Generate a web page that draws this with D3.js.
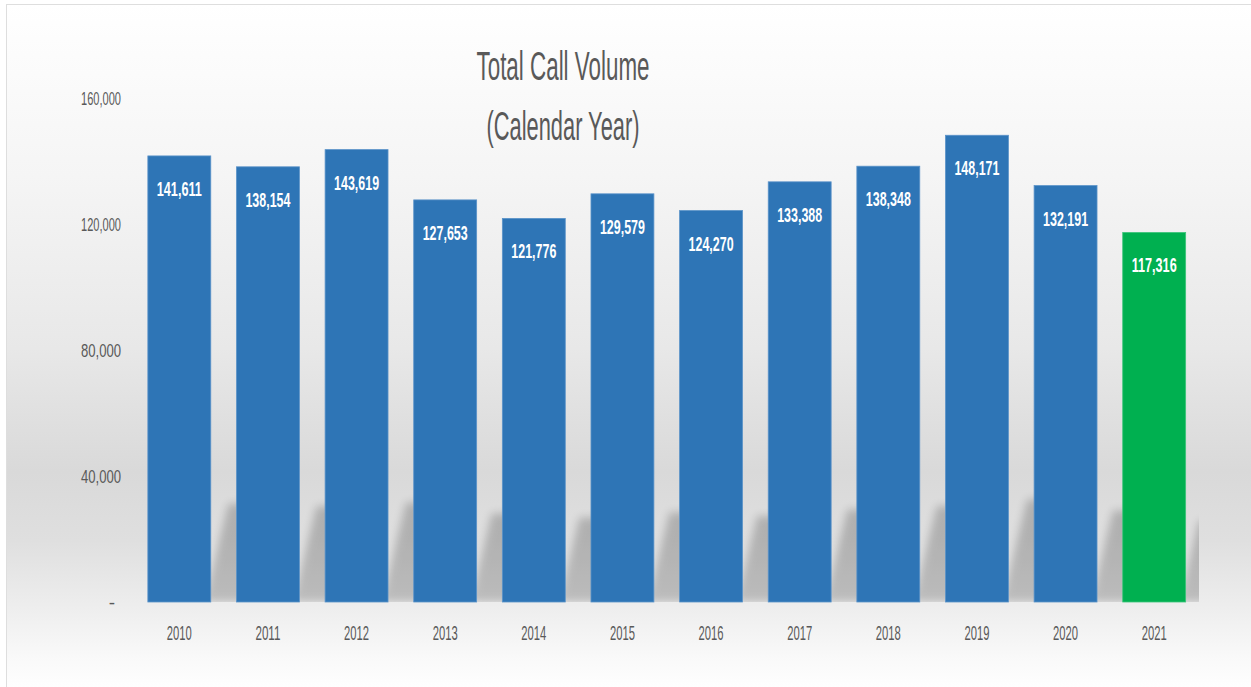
<!DOCTYPE html>
<html>
<head>
<meta charset="utf-8">
<script src="https://cdn.jsdelivr.net/npm/d3@7"></script>
<style>
  html, body { margin: 0; padding: 0; background: #fff; }
  svg { display: block; }
</style>
</head>
<body>
<script>
const years = ['2010','2011','2012','2013','2014','2015','2016','2017','2018','2019','2020','2021'];
const calls = [141611, 138154, 143619, 127653, 121776, 129579, 124270, 133388, 138348, 148171, 132191, 117316];
const yTicks = [0, 40000, 80000, 120000, 160000];
const titleLines = ['Total Call Volume', '(Calendar Year)'];

const W = 1251, H = 687;
const base = 602;
const font = '"Liberation Sans", "Open Sans", sans-serif';

const svg = d3.select('body').append('svg')
  .attr('width', W)
  .attr('height', H)
  .attr('viewBox', [0, 0, W, H]);

const defs = svg.append('defs');

// background gradient
const bg = defs.append('linearGradient')
  .attr('id', 'bg')
  .attr('x1', 0).attr('y1', 0).attr('x2', 0).attr('y2', 1);
[[0, '#ffffff'], [0.25, '#f5f5f5'], [0.5, '#e8e8e8'], [0.68, '#d9d9d9'], [0.78, '#dfdfdf'], [0.88, '#eeeeee'], [0.95, '#f9f9f9'], [1, '#ffffff']]
  .forEach(s => bg.append('stop').attr('offset', s[0]).attr('stop-color', s[1]));

defs.append('filter').attr('id', 'blur')
  .attr('x', '-50%').attr('y', '-50%').attr('width', '200%').attr('height', '200%')
  .append('feGaussianBlur').attr('stdDeviation', 4);

defs.append('clipPath').attr('id', 'plotclip')
  .append('rect').attr('x', 130).attr('y', 80).attr('width', 1199 - 130).attr('height', base - 80);

svg.append('rect').attr('width', W).attr('height', H).attr('fill', '#fff');
svg.append('rect')
  .attr('x', 6.5).attr('y', 4.5).attr('width', W).attr('height', H)
  .attr('fill', 'url(#bg)')
  .attr('stroke', '#dedede');

const x = d3.scaleBand()
  .domain(years)
  .range([135, 1198.5])
  .paddingInner(0.29)
  .paddingOuter(0.145);

const y = d3.scaleLinear()
  .domain([0, 160000])
  .range([base, 98]);

const rows = years.map((yr, i) => ({ yr, v: calls[i] }));

// perspective shadows
const shadowG = svg.append('g').attr('clip-path', 'url(#plotclip)');
shadowG.selectAll('path')
  .data(rows)
  .join('path')
  .attr('d', d => {
    const x0 = x(d.yr) + 56, x1 = x0 + x.bandwidth();
    const hs = (base - y(d.v)) * 0.22;
    const sk = hs * 0.25;
    return `M${x0},${base}L${x1},${base}L${x1 + sk},${base - hs}L${x0 + sk},${base - hs}Z`;
  })
  .attr('fill', '#000')
  .attr('opacity', 0.2)
  .attr('filter', 'url(#blur)');

// bars
svg.append('g').selectAll('rect')
  .data(rows)
  .join('rect')
  .attr('x', d => x(d.yr))
  .attr('y', d => y(d.v))
  .attr('width', x.bandwidth())
  .attr('height', d => base - y(d.v))
  .attr('fill', d => d.yr === '2021' ? '#00b050' : '#2e75b6')
  .attr('stroke', d => d.yr === '2021' ? '#3cc57a' : '#5b93c9')
  .attr('stroke-width', 0.8);

// value labels
svg.append('g').selectAll('text')
  .data(rows)
  .join('text')
  .attr('x', d => x(d.yr) + x.bandwidth() / 2)
  .attr('y', d => y(d.v) + 40)
  .attr('text-anchor', 'middle')
  .attr('fill', '#fff')
  .attr('font-family', font)
  .attr('font-weight', 'bold')
  .attr('font-size', 20)
  .attr('textLength', 45)
  .attr('lengthAdjust', 'spacingAndGlyphs')
  .text(d => d3.format(',')(d.v));

// y axis
const yAxis = svg.append('g')
  .attr('transform', 'translate(121,0)')
  .call(d3.axisLeft(y).tickValues(yTicks).tickSize(0).tickPadding(0)
    .tickFormat(d => d === 0 ? '-' : d3.format(',')(d)));
yAxis.select('.domain').remove();
yAxis.selectAll('text')
  .attr('fill', '#595959')
  .attr('font-family', font)
  .attr('font-size', 19)
  .attr('lengthAdjust', 'spacingAndGlyphs')
  .attr('textLength', d => d === 0 ? null : 40);
yAxis.selectAll('.tick').filter(d => d === 0).select('text').attr('dx', -6);

// x axis
const xAxis = svg.append('g')
  .attr('transform', `translate(0,${base})`)
  .call(d3.axisBottom(x).tickSize(0).tickPadding(23));
xAxis.select('.domain').remove();
xAxis.selectAll('text')
  .attr('fill', '#595959')
  .attr('font-family', font)
  .attr('font-size', 21)
  .attr('textLength', 25)
  .attr('lengthAdjust', 'spacingAndGlyphs');

// title
const titleW = [173, 153];
svg.append('g').selectAll('text')
  .data(titleLines)
  .join('text')
  .attr('x', 563)
  .attr('y', (d, i) => 80 + i * 60)
  .attr('text-anchor', 'middle')
  .attr('fill', '#595959')
  .attr('font-family', font)
  .attr('font-size', 40)
  .attr('textLength', (d, i) => titleW[i])
  .attr('lengthAdjust', 'spacingAndGlyphs')
  .text(d => d);
</script>
</body>
</html>
